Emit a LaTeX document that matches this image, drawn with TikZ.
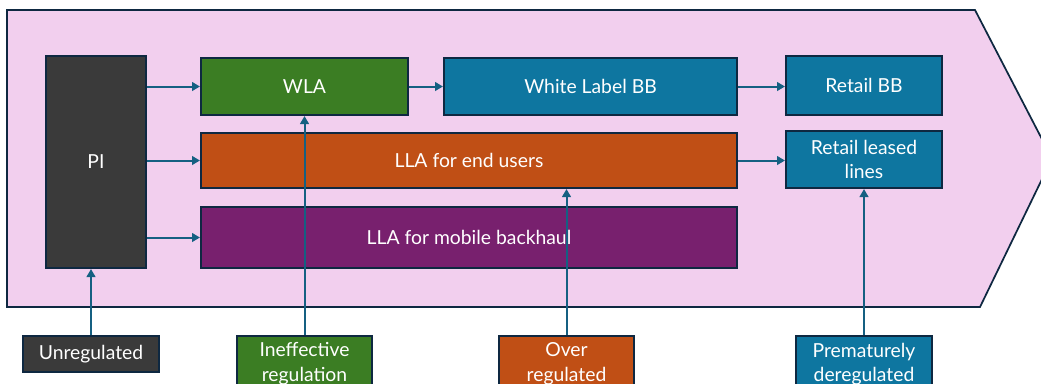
\documentclass[tikz,border=0pt]{standalone}
\usepackage{fontspec}
\setmainfont{Lato}
\usetikzlibrary{arrows.meta}
\definecolor{navy}{HTML}{0E2841}
\definecolor{arrowc}{HTML}{156082}
\definecolor{pinkbg}{HTML}{F2CFEE}
\definecolor{greenb}{HTML}{3B7D23}
\definecolor{orangeb}{HTML}{C04F15}
\definecolor{tealb}{HTML}{0E76A0}
\definecolor{purpleb}{HTML}{78206E}
\definecolor{grayb}{HTML}{3A3A3A}
\tikzset{
  box/.style={draw=navy, line width=1.5pt, text=white, font=\fontsize{14.5pt}{18.5pt}\selectfont, inner sep=0pt, align=center},
  arr/.style={draw=arrowc, line width=1.5pt, -{Triangle[length=6pt,width=6.5pt]}},
}
\begin{document}
\begin{tikzpicture}[x=0.75pt,y=-0.75pt]
\useasboundingbox (0,0) rectangle (1041,383);
\clip (0,0) rectangle (1041,383);
% big chevron
\path[fill=pinkbg, draw=navy, line width=1.3pt] (7,10) -- (975,10) -- (1052,158.5) -- (980,307) -- (7,307) -- cycle;
% main boxes
\node[box, fill=grayb, minimum width=75pt, minimum height=159pt] (PI) at (96,162) {PI};
\node[box, fill=greenb, minimum width=155.25pt, minimum height=42.75pt] (WLA) at (304.5,86.5) {WLA};
\node[box, fill=tealb, minimum width=219.75pt, minimum height=42.75pt] (WLBB) at (590.5,86.5) {White Label BB};
\node[box, fill=tealb, minimum width=117pt, minimum height=44.25pt] (RBB) at (864,85.5) {Retail BB};
\node[box, fill=orangeb, minimum width=402pt, minimum height=41.25pt] (LLAE) at (469,160.5) {LLA for end users};
\node[box, fill=tealb, minimum width=117pt, minimum height=42.75pt] (RLL) at (864,159.5) {Retail leased\\lines};
\node[box, fill=purpleb, minimum width=402pt, minimum height=45.75pt] (LLAM) at (469,237.5) {LLA for mobile backhaul};
% bottom boxes
\node[box, fill=grayb, minimum width=102pt, minimum height=27pt] (UNR) at (91,354) {Unregulated};
\node[box, fill=greenb, minimum width=101.25pt, minimum height=42pt] (INE) at (304.5,364) {Ineffective\\regulation};
\node[box, fill=orangeb, minimum width=101.25pt, minimum height=42pt] (OVR) at (566.5,364) {Over\\regulated};
\node[box, fill=tealb, minimum width=102pt, minimum height=42pt] (PRE) at (864,364) {Prematurely\\deregulated};
% horizontal arrows
\draw[arr] (PI.east |- WLA.west) -- (WLA.west);
\draw[arr] (PI.east |- LLAE.west) -- (LLAE.west);
\draw[arr] (PI.east |- LLAM.west) -- (LLAM.west);
\draw[arr] (WLA.east) -- (WLBB.west);
\draw[arr] (WLBB.east) -- (WLBB.east -| RBB.west);
\draw[arr] (LLAE.east) -- (LLAE.east -| RLL.west);
% vertical arrows
\draw[arr] (UNR.north) -- (UNR.north |- PI.south);
\draw[arr] (INE.north) -- (INE.north |- WLA.south);
\draw[arr] (OVR.north) -- (OVR.north |- LLAE.south);
\draw[arr] (PRE.north) -- (PRE.north |- RLL.south);
\end{tikzpicture}
\end{document}
